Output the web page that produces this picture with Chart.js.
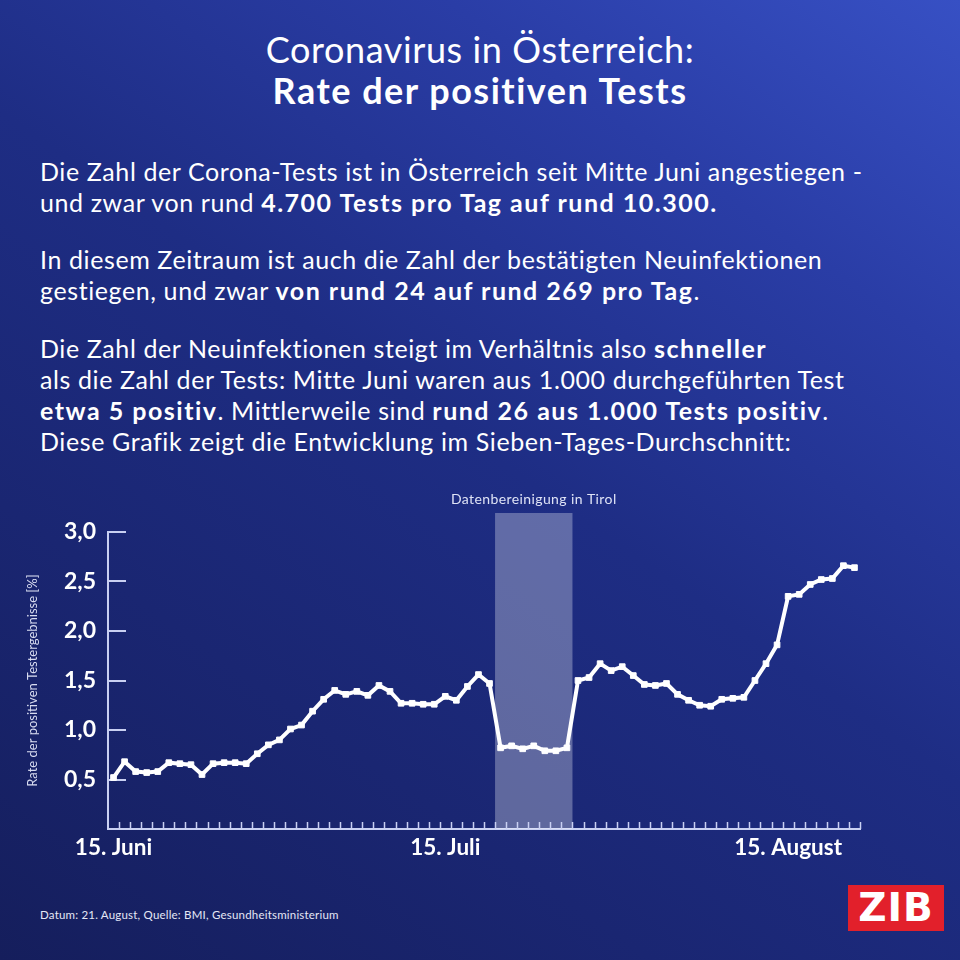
<!DOCTYPE html>
<html lang="de">
<head>
<meta charset="utf-8">
<title>Rate der positiven Tests</title>
<script src="https://cdn.jsdelivr.net/npm/chart.js@4"></script>
<style>
  html, body { margin: 0; padding: 0; }
  body {
    width: 960px; height: 960px; position: relative; overflow: hidden;
    background: linear-gradient(215deg, #3750c4 0%, #2a3da6 22%, #1e2d84 48%, #1a2672 72%, #151e5c 100%);
    font-family: Lato, "Open Sans", sans-serif; color: #fff;
  }
  .t { position: absolute; white-space: nowrap; }
  #title { left: 0; width: 960px; top: 29px; text-align: center; font-size: 36px; line-height: 41px; letter-spacing: 0.6px; }
  #title b { letter-spacing: 1.5px; }
  .p { left: 40px; font-size: 25px; line-height: 31px; letter-spacing: 0.6px; }
  .p b { letter-spacing: 1.5px; }
  #source { left: 40px; top: 908px; font-size: 11.5px; letter-spacing: 0.2px; color: #e4e7f5; }
  #zib {
    position: absolute; left: 848px; top: 885px; width: 96px; height: 46px;
    background: #e2202b; color: #fff; font: bold 39px "DejaVu Sans", sans-serif;
    text-align: center; line-height: 46px; letter-spacing: 1px;
  }
  #chart { position: absolute; left: 0; top: 480px; }
</style>
</head>
<body>
<div id="title" class="t">Coronavirus in Österreich:<br><b>Rate der positiven Tests</b></div>
<div class="t p" style="top:156px">Die Zahl der Corona-Tests ist in Österreich seit Mitte Juni angestiegen -<br>und zwar von rund <b>4.700 Tests pro Tag auf rund 10.300.</b></div>
<div class="t p" style="top:244px">In diesem Zeitraum ist auch die Zahl der bestätigten Neuinfektionen<br>gestiegen, und zwar <b>von rund 24 auf rund 269 pro Tag</b>.</div>
<div class="t p" style="top:333px">Die Zahl der Neuinfektionen steigt im Verhältnis also <b>schneller</b><br>als die Zahl der Tests: Mitte Juni waren aus 1.000 durchgeführten Test<br><b>etwa 5 positiv</b>. Mittlerweile sind <b>rund 26 aus 1.000 Tests positiv</b>.<br>Diese Grafik zeigt die Entwicklung im Sieben-Tages-Durchschnitt:</div>
<canvas id="chart" width="960" height="420"></canvas>
<div id="source" class="t">Datum: 21. August, Quelle: BMI, Gesundheitsministerium</div>
<div id="zib">ZIB</div>
<script>
// 7-day rate of positive tests [%], one value per day from 15 June to 21 August
const rates = [
  0.52, 0.68, 0.58, 0.57, 0.58, 0.67, 0.66, 0.65, 0.55, 0.66,
  0.67, 0.67, 0.66, 0.76, 0.85, 0.90, 1.01, 1.05, 1.19, 1.31,
  1.40, 1.36, 1.39, 1.35, 1.45, 1.39, 1.27, 1.27, 1.26, 1.26,
  1.34, 1.30, 1.44, 1.56, 1.47, 0.82, 0.84, 0.81, 0.84, 0.79,
  0.79, 0.82, 1.50, 1.53, 1.67, 1.60, 1.64, 1.55, 1.46, 1.45,
  1.47, 1.36, 1.30, 1.25, 1.24, 1.31, 1.32, 1.33, 1.50, 1.67,
  1.86, 2.35, 2.37, 2.47, 2.52, 2.53, 2.66, 2.64
];
const tickDays = [0, 30, 61];
const tickLabels = ["15. Juni", "15. Juli", "15. August"];
const yTicks = [0.5, 1.0, 1.5, 2.0, 2.5, 3.0];
// data cleanup in Tyrol: days 35..41 (20.-26. Juli)
const bandDays = [35, 41];
const bandLabel = "Datenbereinigung in Tirol";

const axisColor = "#c9d0f2";
const fontFamily = "Lato, 'Open Sans', sans-serif";

const axisMarks = {
  id: "axisMarks",
  beforeDatasetsDraw(chart) {
    const { ctx, chartArea, scales: { x, y } } = chart;
    // shaded band
    const x1 = x.getPixelForValue(bandDays[0] - 0.5);
    const x2 = x.getPixelForValue(bandDays[1] + 0.5);
    ctx.save();
    ctx.fillStyle = "rgba(255,255,255,0.3)";
    ctx.fillRect(x1, chartArea.top - 19, x2 - x1, chartArea.bottom - chartArea.top + 19);
    ctx.fillStyle = "#dfe3f6";
    ctx.font = "14px " + fontFamily;
    ctx.letterSpacing = "0.4px";
    ctx.textAlign = "center";
    ctx.textBaseline = "middle";
    ctx.fillText(bandLabel, (x1 + x2) / 2, chartArea.top - 33);

    // small day ticks pointing up from the x axis
    ctx.strokeStyle = axisColor;
    ctx.lineWidth = 1.5;
    ctx.beginPath();
    for (let d = 0; d < rates.length; d++) {
      const px = Math.round(x.getPixelForValue(d + 0.5)) + 0.5;
      ctx.moveTo(px, chartArea.bottom);
      ctx.lineTo(px, chartArea.bottom - 7);
    }
    ctx.stroke();

    // y ticks pointing right into the plot
    ctx.lineWidth = 2;
    ctx.beginPath();
    yTicks.forEach(v => {
      const py = Math.round(y.getPixelForValue(v));
      ctx.moveTo(chartArea.left, py);
      ctx.lineTo(chartArea.left + 18, py);
    });
    ctx.stroke();
    ctx.restore();
  }
};

new Chart(document.getElementById("chart"), {
  type: "line",
  data: {
    datasets: [{
      data: rates.map((v, i) => ({ x: i, y: v })),
      borderColor: "#ffffff",
      borderWidth: 4,
      pointStyle: "rect",
      pointRadius: 4,
      pointBackgroundColor: "#ffffff",
      pointBorderColor: "#ffffff",
      pointBorderWidth: 1,
      tension: 0
    }]
  },
  options: {
    responsive: false,
    animation: false,
    events: [],
    layout: { padding: { left: 0, right: 100, top: 52, bottom: 31 } },
    plugins: { legend: { display: false }, tooltip: { enabled: false } },
    scales: {
      x: {
        type: "linear",
        min: -0.5,
        max: rates.length - 0.5,
        afterBuildTicks: (scale) => { scale.ticks = tickDays.map(v => ({ value: v })); },
        afterFit: (scale) => { scale.height = 40; },
        grid: { display: false, drawTicks: false },
        border: { display: true, color: axisColor, width: 2 },
        ticks: {
          autoSkip: false, maxRotation: 0, padding: 5, color: "#ffffff",
          font: { family: fontFamily, size: 22.5, weight: "bold" },
          callback: (v) => tickLabels[tickDays.indexOf(v)]
        }
      },
      y: {
        min: 0,
        max: 3,
        afterBuildTicks: (scale) => { scale.ticks = yTicks.map(v => ({ value: v })); },
        afterFit: (scale) => { scale.width = 108; },
        grid: { display: false, drawTicks: false },
        border: { display: true, color: axisColor, width: 2 },
        ticks: {
          padding: 12, color: "#ffffff",
          font: { family: fontFamily, size: 23, weight: "bold" },
          callback: (v) => v.toFixed(1).replace(".", ",")
        },
        title: {
          display: true,
          text: "Rate der positiven Testergebnisse [%]",
          color: "#d8dcf0",
          font: { family: fontFamily, size: 13 },
          padding: { top: 25, bottom: 0 }
        }
      }
    }
  },
  plugins: [axisMarks]
});
</script>
</body>
</html>
